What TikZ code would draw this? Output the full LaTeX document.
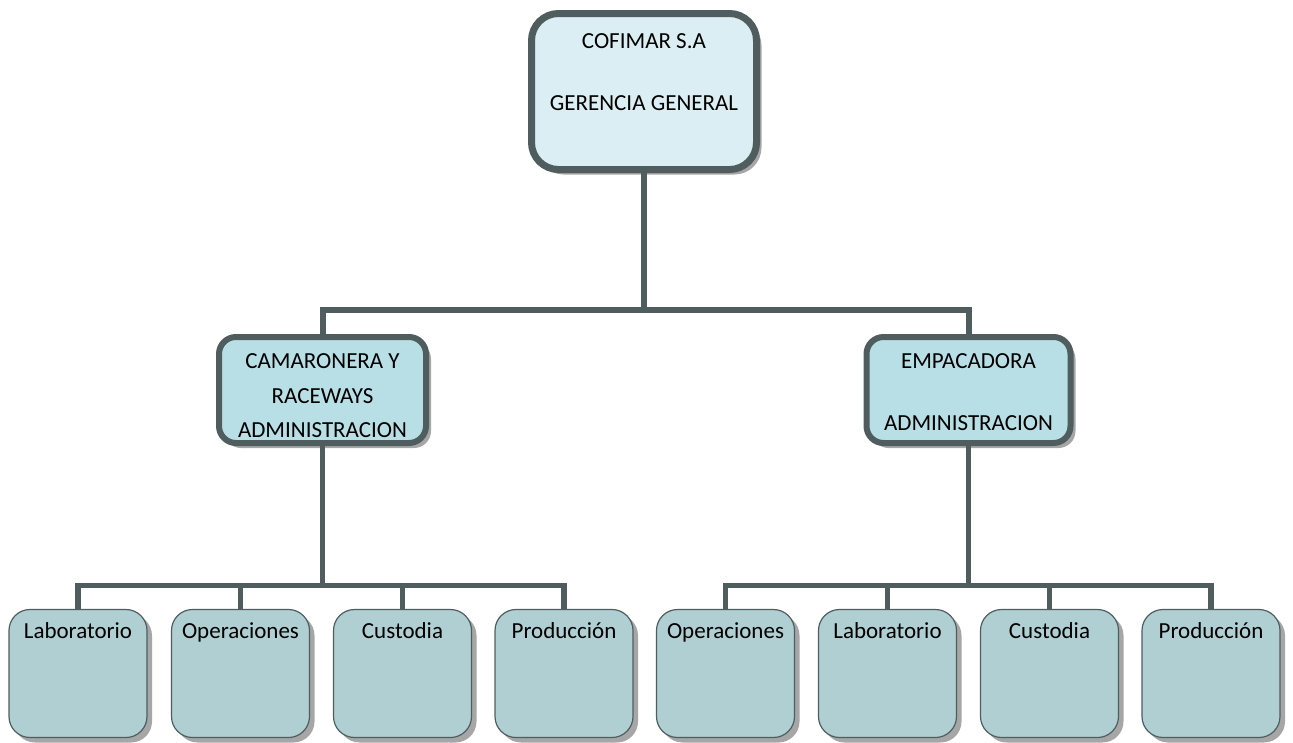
\documentclass[tikz,border=0pt]{standalone}
\usepackage{fontspec}
\setmainfont{Carlito}
\usetikzlibrary{shadows}
\definecolor{bordc}{HTML}{4F5D5E}
\definecolor{topfill}{HTML}{DAEEF3}
\definecolor{midfill}{HTML}{B8DFE5}
\definecolor{botfill}{HTML}{AFCFD3}
\definecolor{shadc}{HTML}{A6A6A6}
\tikzset{
  shd/.style={drop shadow={shadow xshift=5pt, shadow yshift=-5pt, fill=shadc, opacity=1}},
  topbox/.style={shd, draw=bordc, fill=topfill, line width=7pt, rounded corners=27pt,
    minimum width=225pt, minimum height=156pt, inner sep=0pt},
  midbox/.style={shd, draw=bordc, fill=midfill, line width=6pt, rounded corners=17pt,
    minimum height=106pt, inner sep=0pt},
  botbox/.style={shd, draw=bordc, fill=botfill, line width=1.2pt, rounded corners=21pt,
    minimum width=138pt, minimum height=128pt, inner sep=0pt},
  conn/.style={draw=bordc, line width=6pt},
  connb/.style={draw=bordc, line width=5.5pt},
  txt/.style={font=\fontsize{23}{28}\selectfont, inner sep=0pt, anchor=base, text=black},
}
\begin{document}
\begin{tikzpicture}[x=1pt, y=-1pt]
\useasboundingbox (0,0) rectangle (1293,742);
% boxes
\node[topbox] (top) at (644,91.5) {};
\node[midbox, minimum width=207pt] (ml) at (322.5,390) {};
\node[midbox, minimum width=204pt] (mr) at (968.5,390) {};
\foreach \n/\x in {l1/78, l2/240.5, l3/402.5, l4/564, r1/725.5, r2/887.5, r3/1049.5, r4/1211}{
  \node[botbox] (\n) at (\x,673.5) {};
}
% connectors
\coordinate (bus0) at (644,309.5);
\coordinate (busL) at (322.5,585.5);
\coordinate (busR) at (968.5,585.5);
\draw[conn] (top.south) -- (bus0);
\draw[conn] (bus0) -| (ml.north);
\draw[conn] (bus0) -| (mr.north);
\draw[connb] (ml.south) -- (busL);
\draw[connb] (mr.south) -- (busR);
\draw[connb] (busL) -| (l1.north);
\draw[connb] (busL) -| (l4.north);
\draw[connb] (busL -| l2.north) -- (l2.north);
\draw[connb] (busL -| l3.north) -- (l3.north);
\draw[connb] (busR) -| (r1.north);
\draw[connb] (busR) -| (r4.north);
\draw[connb] (busR -| r2.north) -- (r2.north);
\draw[connb] (busR -| r3.north) -- (r3.north);
% texts
\node[txt] (t1) at (644,48) {COFIMAR S.A};
\node[txt] (t2) at (644,110) {GERENCIA GENERAL};
\node[txt] (t3) at (322.5,368) {CAMARONERA Y};
\node[txt] (t4) at (322.5,403) {RACEWAYS};
\node[txt] (t5) at (322.5,437) {ADMINISTRACION};
\node[txt] (t6) at (968.5,368) {EMPACADORA};
\node[txt] (t7) at (968.5,430) {ADMINISTRACION};
\foreach \n/\s in {l1/Laboratorio, l2/Operaciones, l3/Custodia, l4/Producción, r1/Operaciones, r2/Laboratorio, r3/Custodia, r4/Producción}{
  \node[txt] (\n-t) at ([yshift=-30pt]\n.north) {\s};
}
\end{tikzpicture}
\end{document}
